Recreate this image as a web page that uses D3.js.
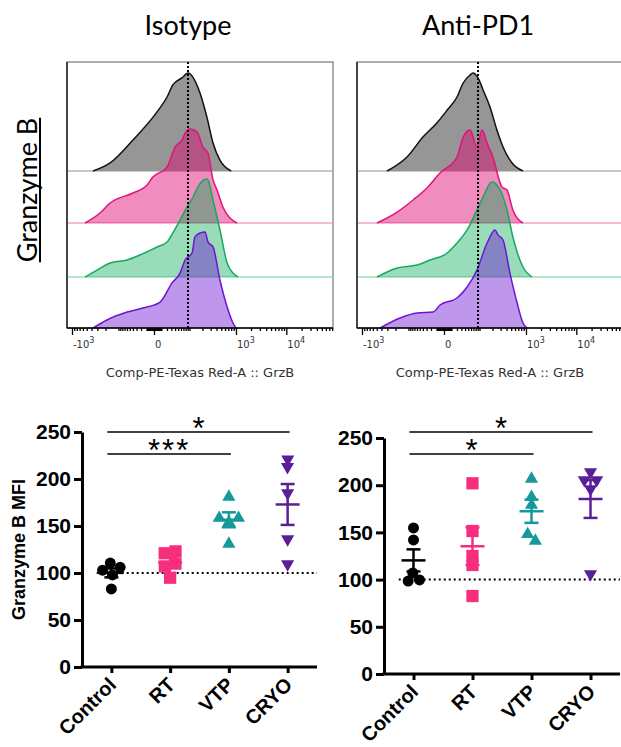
<!doctype html>
<html>
<head>
<meta charset="utf-8">
<style>
  body {margin:0; background:#fff}
  svg {display:block}
  .title {font-family: Lato, "Open Sans", sans-serif; font-size:27px; fill:#000}
  .flow {font-family: "DejaVu Sans", sans-serif; fill:#333}
  .prism {font-family: "Liberation Sans", Arial, sans-serif; font-weight:bold; fill:#000}
  .prism-axis path, .prism-axis line {stroke:#000; stroke-width:3}
  .prism-axis text {font-family: "Liberation Sans", Arial, sans-serif; font-weight:bold; font-size:21px; fill:#000}
  .flow-axis path {display:none}
  .flow-axis line {stroke:#000; stroke-width:1.3}
</style>
<script src="https://d3js.org/d3.v7.min.js"></script>
</head>
<body>
<script>
// histogram traces: [position as % of the display range, % of mode]
var isoGray   = [[9.8,0],[16.2,8.2],[24.8,31.6],[33.5,59],[37.6,75.5],[39.8,87.8],[43.2,95],[45.5,100],[50,79.6],[52.6,55],[54.9,28.6],[57.5,11],[61.7,0]];
var isoPink   = [[6.8,0],[12.4,10.2],[16.2,20.4],[24.8,30.6],[30.1,38.8],[32.3,47],[37.6,57],[40.6,77.5],[43.2,84.7],[44.4,91.8],[46.2,96],[48.9,93],[51.1,77.5],[53,71.4],[54.9,44],[56.4,33.7],[58.6,16.3],[63.9,0]];
var isoGreen  = [[6.8,0],[11.3,7.1],[16.2,14.3],[22.6,17.3],[27.4,22.4],[33.8,30.6],[37.6,35.7],[39.8,45],[42.5,58],[45.1,71.4],[47.4,81.6],[49.2,91.8],[52.3,100],[53,99],[54.9,78.6],[57.5,48],[60.2,14.3],[62.4,4],[64.3,0]];
var isoPurple = [[9.8,0],[15,8.2],[22.6,16.3],[28.6,20.4],[35,26.5],[39.5,46],[42.5,56],[44.4,69.4],[47,76.5],[48.1,92.9],[50,97],[51.9,98],[53,87.8],[54.9,82.7],[57.5,49],[60.2,21.4],[62.4,5.1],[63.5,0]];

var pdGray   = [[11.3,0],[18.8,14.3],[24.8,34.7],[30,49],[33.9,62.2],[37.6,75.5],[39.9,89.8],[42.5,98],[43.6,100],[45.5,95],[47.4,82.7],[50,65.3],[52.6,41.8],[54.9,24.5],[58.3,8.2],[62.4,0]];
var pdPink   = [[7.5,0],[15.1,11.2],[21.1,23.5],[26.3,35.7],[31.2,51],[37.6,67.3],[39.9,87.8],[42.5,95],[45.1,77.6],[47,94.9],[48.9,81.6],[51.1,67.3],[54.5,36.7],[56.4,33.7],[58.6,13.3],[62.4,0]];
var pdGreen  = [[7.5,0],[15.1,9.2],[22.6,12.2],[27.5,17.3],[33.9,24.5],[37.6,34.7],[41.4,48],[45.1,68.4],[47.4,81.6],[50.7,97],[53.8,88.8],[56.4,68.4],[58.6,40.8],[62.4,10.2],[65.8,0]];
var pdPurple = [[8.7,0],[16.2,10.2],[22.6,15.3],[28.6,16.3],[31.2,23.5],[37.6,30.6],[41.4,41.8],[45.1,59.2],[48.9,86.7],[51.9,100],[53,95],[54.9,89.8],[57.5,56],[60.2,25.5],[62.4,5.1],[63.9,0]];

var isoMarker = 45.5, pdMarker = 45.5;   // dotted reference (control mode)

var flowMajor = [-1000, 0, 1000, 10000];
var flowLabelBase = ["-10", "0", "10", "10"];
var flowLabelExp  = ["3", "", "3", "4"];
var flowAxisTitle = "Comp-PE-Texas Red-A :: GrzB";

// Granzyme B MFI per mouse
var groups = ["Control", "RT", "VTP", "CRYO"];
var isotypeMFI = [[110.6,106,103,98,83],[121,123,107,110,95],[181,158.5,158.5,154,131],[213,221,185,136,109.5]];
var antiPD1MFI = [[154.7,142,107,98.5,99.6],[202,151.5,125,115.5,82.6],[206.6,187.5,179,148,141],[214,205.5,205.5,196,106]];
var yTicks = [0, 50, 100, 150, 200, 250];
var isotypeSig = [["Control","CRYO","*"],["Control","VTP","***"]];
var antiPD1Sig = [["Control","CRYO","*"],["Control","VTP","*"]];

var W = 621, H = 747;
var svg = d3.select("body").append("svg").attr("width", W).attr("height", H);

// ---------- histograms ----------
var histTop = 62, histBottom = 328, histW = 266;
var rowBase = [171, 223, 277, 328];
var rowH = 98;
var traceStyle = [
  {fill:"#969696", op:1,    stroke:"#111",    base:"#b4b4b4"},
  {fill:"#de006f", op:0.45, stroke:"#e0147a", base:"#f0a2c6"},
  {fill:"#00a750", op:0.4,  stroke:"#14aa5a", base:"#9be0bd"},
  {fill:"#6f16d3", op:0.45, stroke:"#6e14d2", base:null}
];

function histPanel(x0, title, traces, marker) {
  var g = svg.append("g");
  var px = d3.scaleLinear().domain([0, 100]).range([x0, x0 + histW]);
  var fx = d3.scaleSymlog().constant(25).domain([-1260, 83000]).range([x0, x0 + histW]);

  g.append("text").attr("class", "title").attr("x", x0 + 121).attr("y", 35)
    .attr("text-anchor", "middle").text(title);

  g.append("rect").attr("x", x0).attr("y", histTop).attr("width", histW)
    .attr("height", histBottom - histTop).attr("fill", "none")
    .attr("stroke", "#777").attr("stroke-width", 1.2);

  traces.forEach(function(tr, i) {
    var st = traceStyle[i];
    var py = d3.scaleLinear().domain([0, 100]).range([rowBase[i], rowBase[i] - rowH]);
    if (st.base) {
      g.append("line").attr("x1", x0).attr("x2", x0 + histW)
        .attr("y1", rowBase[i]).attr("y2", rowBase[i])
        .attr("stroke", st.base).attr("stroke-width", 1.5);
    }
    var area = d3.area().curve(d3.curveMonotoneX)
      .x(function(d){ return px(d[0]); }).y0(py(0)).y1(function(d){ return py(d[1]); });
    var line = d3.line().curve(d3.curveMonotoneX)
      .x(function(d){ return px(d[0]); }).y(function(d){ return py(d[1]); });
    g.append("path").datum(tr).attr("d", area).attr("fill", st.fill).attr("fill-opacity", st.op);
    g.append("path").datum(tr).attr("d", line).attr("fill", "none")
      .attr("stroke", st.stroke).attr("stroke-width", 1.5);
  });

  // dotted marker at control mode
  g.append("line").attr("x1", px(marker)).attr("x2", px(marker))
    .attr("y1", histTop).attr("y2", histBottom)
    .attr("stroke", "#000").attr("stroke-width", 2).attr("stroke-dasharray", "2,2");

  // frame bottom/left darker
  g.append("line").attr("x1", x0).attr("x2", x0 + histW).attr("y1", histBottom).attr("y2", histBottom)
    .attr("stroke", "#000").attr("stroke-width", 1.5);
  g.append("line").attr("x1", x0).attr("x2", x0).attr("y1", histTop).attr("y2", histBottom)
    .attr("stroke", "#000").attr("stroke-width", 1.2);

  // biexponential-style axis ticks
  var minor = [];
  [1, 10, 100].forEach(function(dec) {
    for (var k = 1; k <= 9; k++) { minor.push(k * dec); minor.push(-k * dec); }
  });
  for (var k = 2; k <= 9; k++) { minor.push(k * 1000); minor.push(k * 10000); }
  minor = minor.filter(function(v){ return v > -1260 && v < 83000 && flowMajor.indexOf(v) < 0; });

  g.append("g").attr("class", "flow-axis").attr("transform", "translate(0," + histBottom + ")")
    .call(d3.axisBottom(fx).tickValues(minor).tickSize(3).tickFormat(""));
  g.append("g").attr("class", "flow-axis").attr("transform", "translate(0," + histBottom + ")")
    .call(d3.axisBottom(fx).tickValues(flowMajor).tickSize(7).tickFormat(""));

  flowMajor.forEach(function(v, i) {
    var t = g.append("text").attr("class", "flow").attr("x", fx(v) + 1).attr("y", 348)
      .attr("font-size", 10).text(flowLabelBase[i]);
    if (flowLabelExp[i]) t.append("tspan").attr("dy", -5).attr("font-size", 8).text(flowLabelExp[i]);
  });

  g.append("text").attr("class", "flow").attr("x", x0 + 133).attr("y", 377)
    .attr("text-anchor", "middle").attr("font-size", 13).text(flowAxisTitle);
}

histPanel(67, "Isotype", [isoGray, isoPink, isoGreen, isoPurple], isoMarker);
histPanel(357, "Anti-PD1", [pdGray, pdPink, pdGreen, pdPurple], pdMarker);

var gz = svg.append("text").attr("class", "title").attr("font-size", 28)
  .attr("transform", "translate(37,190) rotate(-90)").attr("text-anchor", "middle").text("Granzyme B");
var gb = gz.node().getBBox();
svg.append("line").attr("x1", 40).attr("x2", 40)
  .attr("y1", 190 - gb.width / 2).attr("y2", 190 + gb.width / 2)
  .attr("stroke", "#000").attr("stroke-width", 2);

// ---------- scatter plots ----------
var groupColor = ["#000000", "#f72d7d", "#16999a", "#5a1f98"];
var groupSymbol = [d3.symbolCircle, d3.symbolSquare, d3.symbolTriangle, d3.symbolTriangle];
var groupSize = [95, 150, 75, 75];

function scatterPanel(xRange, yRange, values, sig, showLabel) {
  var g = svg.append("g");
  var x = d3.scalePoint().domain(groups).range(xRange).padding(0.5);
  var y = d3.scaleLinear().domain([0, 250]).range(yRange);
  var step = x.step();

  // dotted line at 100
  g.append("line").attr("x1", x("Control") - step * 0.25).attr("x2", xRange[1])
    .attr("y1", y(100)).attr("y2", y(100))
    .attr("stroke", "#000").attr("stroke-width", 2).attr("stroke-dasharray", "2,3");

  groups.forEach(function(grp, gi) {
    var cx = x(grp);
    var nodes = values[gi].map(function(v){ return {v: v, x: cx, y: y(v), ty: y(v)}; });
    var sim = d3.forceSimulation(nodes)
      .force("x", d3.forceX(cx).strength(0.06))
      .force("y", d3.forceY(function(d){ return d.ty; }).strength(0.9))
      .force("c", d3.forceCollide(5.5))
      .stop();
    for (var i = 0; i < 250; i++) sim.tick();

    var sym = d3.symbol().type(groupSymbol[gi]).size(groupSize[gi]);
    g.selectAll(null).data(nodes).enter().append("path")
      .attr("d", sym)
      .attr("transform", function(d){
        return "translate(" + d.x + "," + d.ty + ")" + (gi === 3 ? " rotate(180)" : "");
      })
      .attr("fill", groupColor[gi]);

    var m = d3.mean(values[gi]);
    var sem = d3.deviation(values[gi]) / Math.sqrt(values[gi].length);
    var c = groupColor[gi];
    g.append("line").attr("x1", cx - 12).attr("x2", cx + 12).attr("y1", y(m)).attr("y2", y(m))
      .attr("stroke", c).attr("stroke-width", 2.5);
    g.append("line").attr("x1", cx).attr("x2", cx).attr("y1", y(m - sem)).attr("y2", y(m + sem))
      .attr("stroke", c).attr("stroke-width", 2.5);
    [m - sem, m + sem].forEach(function(v) {
      g.append("line").attr("x1", cx - 7).attr("x2", cx + 7).attr("y1", y(v)).attr("y2", y(v))
        .attr("stroke", c).attr("stroke-width", 2.5);
    });
  });

  // axes
  g.append("g").attr("class", "prism-axis").attr("transform", "translate(" + xRange[0] + ",0)")
    .call(d3.axisLeft(y).tickValues(yTicks).tickSize(8).tickSizeOuter(0).tickPadding(3));
  var xa = g.append("g").attr("class", "prism-axis").attr("transform", "translate(0," + yRange[0] + ")")
    .call(d3.axisBottom(x).tickSize(6).tickSizeOuter(0).tickFormat(""));
  xa.select(".domain").attr("d", "M" + (xRange[0] - 1.5) + ",0H" + xRange[1]);

  groups.forEach(function(grp) {
    g.append("text").attr("class", "prism").attr("font-size", 20)
      .attr("text-anchor", "end")
      .attr("transform", "translate(" + (x(grp) + 6) + "," + (yRange[0] + 19) + ") rotate(-45)")
      .text(grp);
  });

  // significance bars
  var barY = [432, 454];
  sig.forEach(function(s, i) {
    var xa1 = x(s[0]) - 4, xb = x(s[1]) + 2;
    g.append("line").attr("x1", xa1).attr("x2", xb).attr("y1", barY[i]).attr("y2", barY[i])
      .attr("stroke", "#000").attr("stroke-width", 1.5);
    g.append("text").attr("x", (xa1 + xb) / 2).attr("y", barY[i] + 7)
      .attr("text-anchor", "middle").attr("font-family", "Liberation Sans, Arial, sans-serif")
      .attr("font-size", 31).attr("letter-spacing", s[2].length > 1 ? 2 : 0)
      .text(s[2]);
  });

  if (showLabel) {
    g.append("text").attr("class", "prism").attr("font-size", 18).attr("text-anchor", "middle")
      .attr("transform", "translate(25," + ((yRange[0] + yRange[1]) / 2) + ") rotate(-90)")
      .text("Granzyme B MFI");
  }
}

scatterPanel([82, 317], [667, 432], isotypeMFI, isotypeSig, true);
scatterPanel([384, 620], [674, 438], antiPD1MFI, antiPD1Sig, false);
</script>
</body>
</html>
